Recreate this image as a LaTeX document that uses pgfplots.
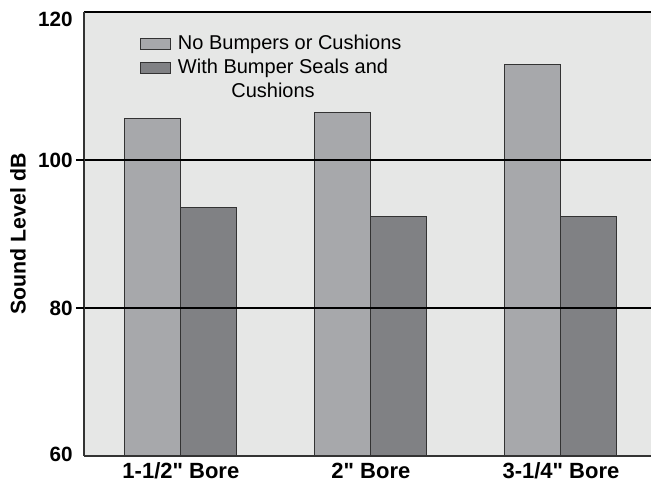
\documentclass[border=0pt]{standalone}
\usepackage{pgfplots}
\pgfplotsset{compat=1.18}
\usepackage{fontspec}
\setmainfont{Liberation Sans}[Ligatures=TeXOff]

\definecolor{bgcol}{HTML}{E6E7E6}
\definecolor{lightbar}{HTML}{A7A8AB}
\definecolor{darkbar}{HTML}{808184}
\definecolor{edgecol}{HTML}{333333}

\pgfplotstableread{
x nocush withcush
0 105.6 93.6
1 106.4 92.4
2 112.9 92.4
}\sounddata

% tick label lowered by #1 below its tick, box smashed
\newcommand{\ylab}[2]{\raisebox{-#1}[0pt][0pt]{\bfseries #2}}

\begin{document}
\begin{tikzpicture}[font=\fontsize{15}{18}\selectfont]
\begin{axis}[
  scale only axis,
  width=425.25pt, height=333pt,
  ybar=0pt, bar width=42pt,
  xmin=-0.51, xmax=2.474,
  ymin=60, ymax=120,
  axis x line=bottom, axis y line=left,
  axis line style={-, edgecol, line width=1.1pt},
  axis background/.style={fill=bgcol},
  axis on top,
  xtick=data,
  xticklabels={1-1/2" Bore, 2" Bore, 3-1/4" Bore},
  x tick style={draw=none},
  ticklabel style={font=\bfseries\fontsize{15.5}{18}\selectfont},
  xticklabel style={font=\bfseries\fontsize{16.5}{18}\selectfont, text height=11pt, text depth=3pt, yshift=-2.5pt},
  ytick={60,80,100,120},
  yticklabels={\ylab{4.1pt}{60},\ylab{5.6pt}{80},\ylab{5.6pt}{100},\ylab{10.6pt}{120}},
  yticklabel style={xshift=-5pt},
  ymajorgrids,
  grid style={black, line width=0.8pt},
  tick align=outside,
  major tick length=0pt,
  extra y ticks={80,100},
  extra y tick labels={},
  extra y tick style={major tick length=6pt, grid=none},
  y tick style={black, line width=0.8pt},
  /pgf/number format/assume math mode=true,
  ylabel={Sound Level dB},
  every axis y label/.style={at={(axis description cs:-0.1164,0.5)}, rotate=90, anchor=center, font=\bfseries\fontsize{16}{18}\selectfont},
  legend style={at={(rel axis cs:0,1)}, anchor=north west, xshift=42pt, yshift=-15pt,
    draw=none, fill=none, inner sep=0pt, row sep=0pt, column sep=4pt,
    nodes={inner sep=1pt, text height=12pt, text depth=4pt},
    font=\fontsize{15}{18}\selectfont},
  legend cell align=left,
  legend image code/.code={\draw[#1] (0pt,-4.1pt) rectangle (22.5pt,4.1pt);},
]
\addplot[fill=lightbar, draw=edgecol, line width=0.8pt] table[x=x, y=nocush] {\sounddata};
\addplot[fill=darkbar, draw=edgecol, line width=0.8pt] table[x=x, y=withcush] {\sounddata};
\addlegendentry{No Bumpers or Cushions}
\addlegendentry{With Bumper Seals and}
\addlegendimage{empty legend}
\addlegendentry{\hspace*{40pt}Cushions}
\end{axis}
\pgfresetboundingbox
\path[use as bounding box] (-63pt,-19.5pt) rectangle (425.25pt,342pt);
\end{tikzpicture}
\end{document}
